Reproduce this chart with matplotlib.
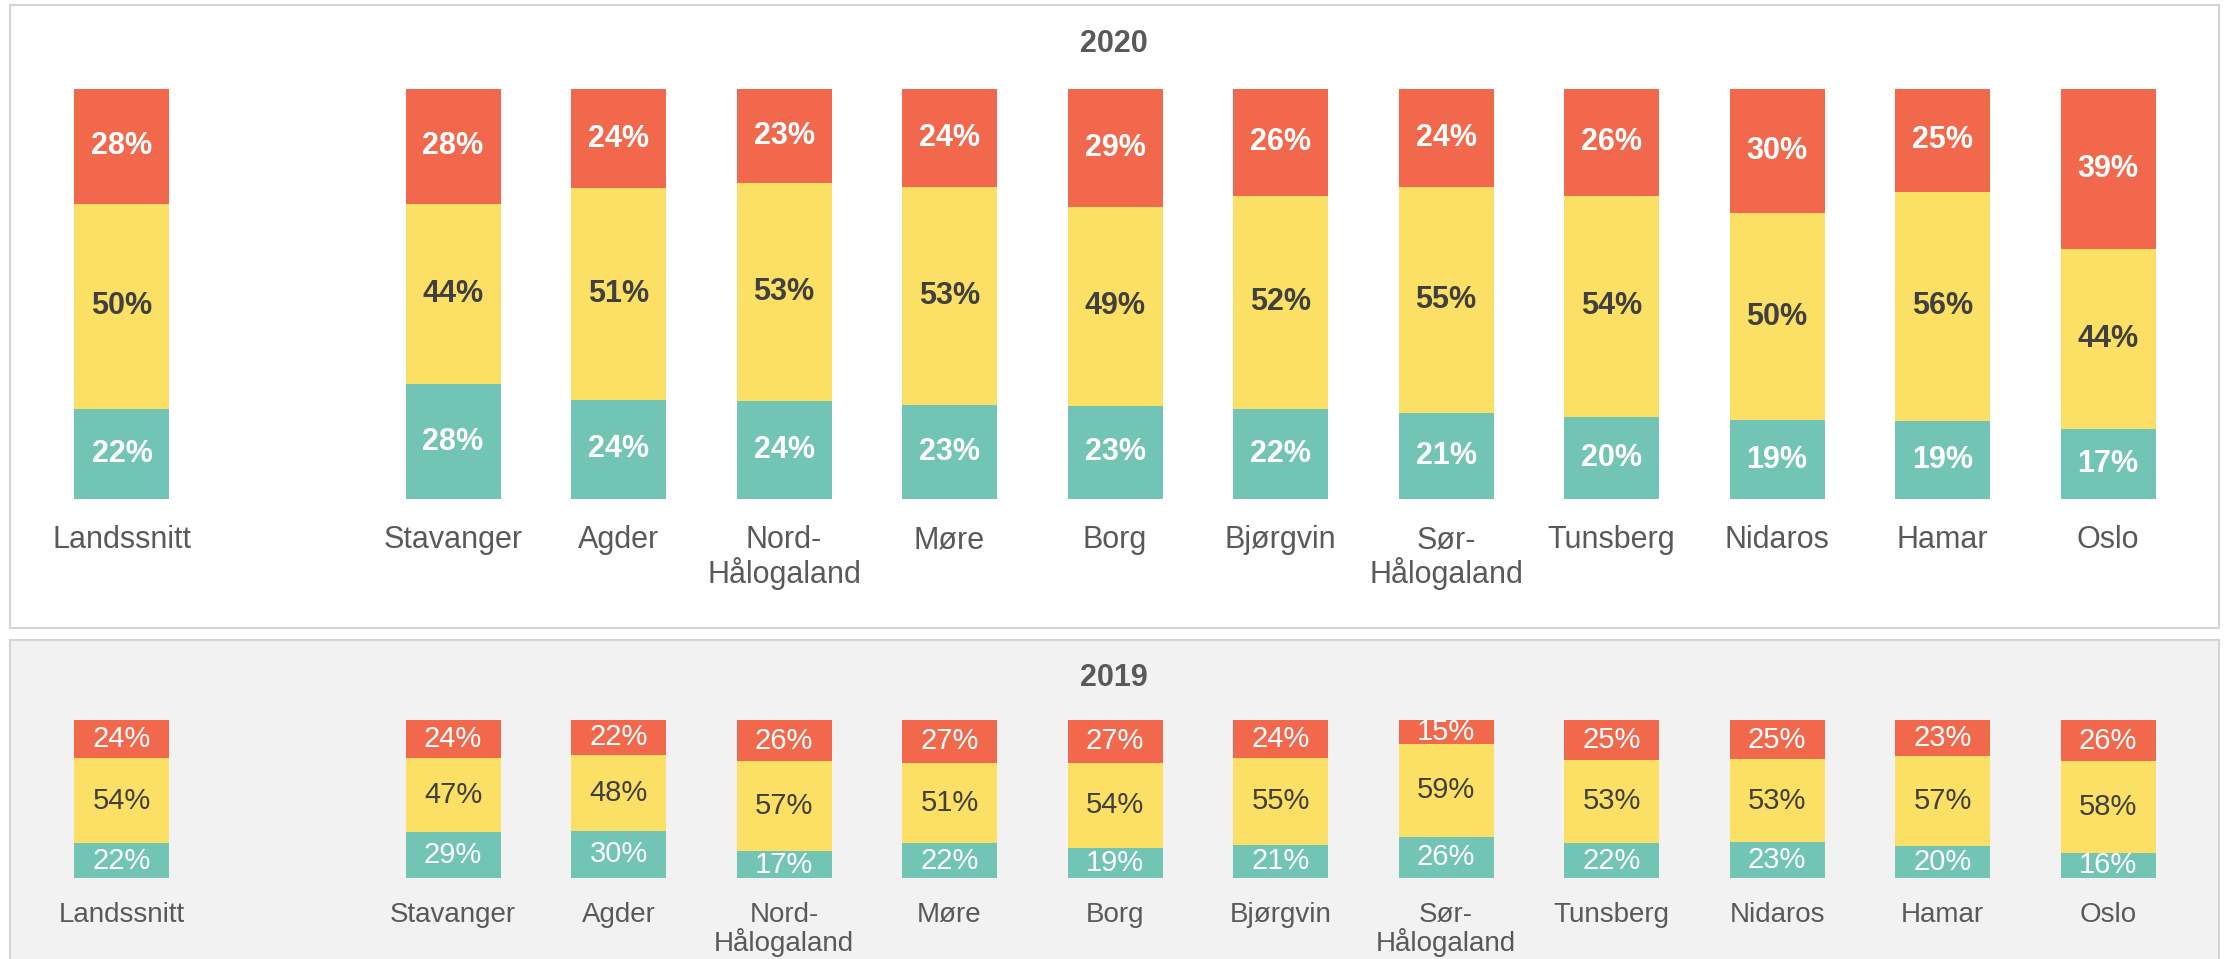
import matplotlib
matplotlib.use('Agg')
import matplotlib.pyplot as plt
from matplotlib.patches import Rectangle
from matplotlib import font_manager

# Categories (Landssnitt stands apart from the dioceses)
categories = ['Landssnitt', 'Stavanger', 'Agder', 'Nord-\nHålogaland', 'Møre', 'Borg',
              'Bjørgvin', 'Sør-\nHålogaland', 'Tunsberg', 'Nidaros', 'Hamar', 'Oslo']
positions = [0, 2, 3, 4, 5, 6, 7, 8, 9, 10, 11, 12]

# 2020 shares (bottom -> top)
green_2020 = [22, 28, 24, 24, 23, 23, 22, 21, 20, 19, 19, 17]
yellow_2020 = [50, 44, 51, 53, 53, 49, 52, 55, 54, 50, 56, 44]
red_2020 = [28, 28, 24, 23, 24, 29, 26, 24, 26, 30, 25, 39]

# 2019 shares (bottom -> top)
green_2019 = [22, 29, 30, 17, 22, 19, 21, 26, 22, 23, 20, 16]
yellow_2019 = [54, 47, 48, 57, 51, 54, 55, 59, 53, 53, 57, 58]
red_2019 = [24, 24, 22, 26, 27, 27, 24, 15, 25, 25, 23, 26]

RED = '#F2684C'
YELLOW = '#FCE066'
GREEN = '#72C4B4'
DARK = '#404040'
GRAY = '#595959'

available = {f.name for f in font_manager.fontManager.ttflist}
plt.rcParams['font.family'] = ['Liberation Sans', 'DejaVu Sans']
narrow = 'Liberation Sans Narrow' if 'Liberation Sans Narrow' in available else 'Liberation Sans'

W, H = 2224, 959
fig = plt.figure(figsize=(W / 100, H / 100), dpi=100)

# panel backgrounds
fig.patches.append(Rectangle((10 / W, 1 - 628 / H), 2209 / W, 623 / H, transform=fig.transFigure,
                             facecolor='white', edgecolor='#d4d4d4', linewidth=1.5, zorder=-5))
fig.patches.append(Rectangle((10 / W, -0.05), 2209 / W, 1 - 640 / H + 0.05, transform=fig.transFigure,
                             facecolor='#f2f2f2', edgecolor='#d4d4d4', linewidth=1.5, zorder=-5))


def draw_panel(ax, green, yellow, red, big):
    width = 0.574
    for i, x in enumerate(positions):
        total = green[i] + yellow[i] + red[i]
        g = green[i] / total * 100
        y = yellow[i] / total * 100
        r = red[i] / total * 100
        ax.bar(x, g, width, color=GREEN)
        ax.bar(x, y, width, bottom=g, color=YELLOW)
        ax.bar(x, r, width, bottom=g + y, color=RED)
        if big:
            kw = dict(fontsize=22, fontweight='bold', family='Liberation Sans')
        else:
            kw = dict(fontsize=21, family=narrow)
        ax.text(x, g / 2, f'{green[i]}%', ha='center', va='center', color='white', **kw)
        ax.text(x, g + y / 2, f'{yellow[i]}%', ha='center', va='center', color=DARK, **kw)
        ax.text(x, g + y + r / 2, f'{red[i]}%', ha='center', va='center', color='white', **kw)
    ax.set_xlim(-0.737, 12.70)
    ax.set_ylim(0, 100)
    ax.set_xticks(positions)
    if big:
        ax.set_xticklabels(categories, fontsize=22, color=GRAY, linespacing=1.05)
        ax.tick_params(axis='x', length=0, pad=19)
    else:
        ax.set_xticklabels(categories, fontsize=20, color=GRAY, family=narrow, linespacing=1.0)
        ax.tick_params(axis='x', length=0, pad=17)
    ax.set_yticks([])
    for s in ax.spines.values():
        s.set_visible(False)
    ax.patch.set_visible(False)


ax_top = fig.add_axes([0, 1 - 499 / H, 1, 410 / H])
draw_panel(ax_top, green_2020, yellow_2020, red_2020, True)

ax_bot = fig.add_axes([0, 1 - 878 / H, 1, 158 / H])
draw_panel(ax_bot, green_2019, yellow_2019, red_2019, False)

fig.text(1114 / W, 1 - 44 / H, '2020', ha='center', va='center', fontsize=22, fontweight='bold', color=GRAY)
fig.text(1114 / W, 1 - 678 / H, '2019', ha='center', va='center', fontsize=22, fontweight='bold', color=GRAY)

fig.savefig('out.png', dpi=100)
